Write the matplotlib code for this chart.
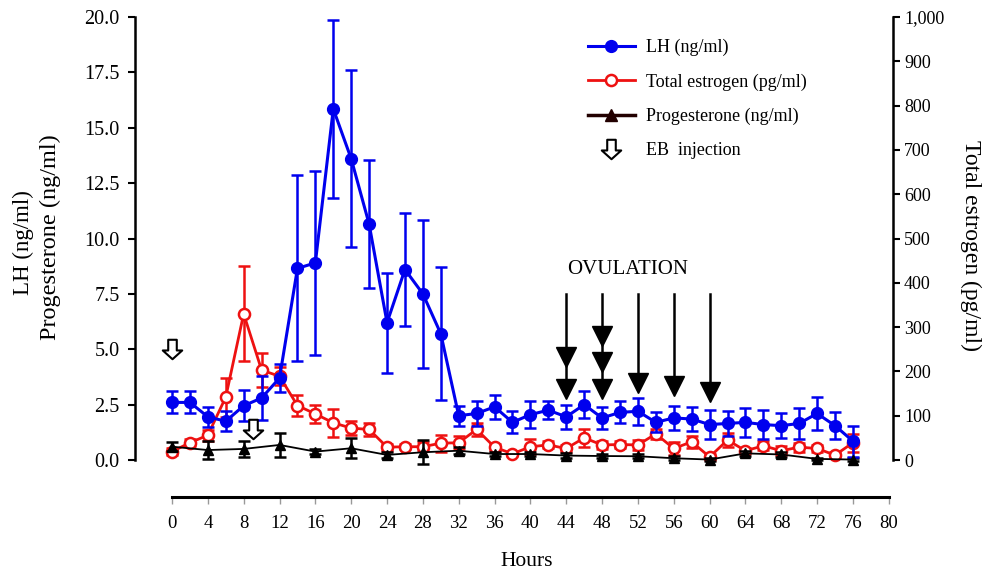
import numpy as np
import matplotlib
matplotlib.use('Agg')
import matplotlib.pyplot as plt
from matplotlib.lines import Line2D
from matplotlib.path import Path
from matplotlib.ticker import StrMethodFormatter

plt.rcParams['font.family'] = ['Liberation Serif', 'DejaVu Serif']

# sampling times (h)
hours = [0, 2, 4, 6, 8, 10, 12, 14, 16, 18, 20, 22, 24, 26, 28, 30, 32, 34, 36, 38,
         40, 42, 44, 46, 48, 50, 52, 54, 56, 58, 60, 62, 64, 66, 68, 70, 72, 74, 76]

# LH (ng/ml)
lh = [2.6, 2.6, 1.95, 1.75, 2.45, 2.8, 3.7, 8.65, 8.9, 15.85, 13.6, 10.65, 6.2, 8.6,
      7.5, 5.7, 2.0, 2.1, 2.4, 1.7, 2.05, 2.25, 1.95, 2.5, 1.9, 2.15, 2.2, 1.7, 1.9,
      1.85, 1.6, 1.65, 1.7, 1.6, 1.55, 1.65, 2.1, 1.55, 0.85]
lh_err = [0.5, 0.5, 0.45, 0.45, 0.7, 1.0, 0.65, 4.2, 4.15, 4.0, 4.0, 2.9, 2.25, 2.55,
          3.35, 3.0, 0.45, 0.55, 0.55, 0.5, 0.6, 0.4, 0.55, 0.6, 0.5, 0.5, 0.6, 0.45,
          0.55, 0.55, 0.65, 0.55, 0.65, 0.65, 0.55, 0.7, 0.75, 0.6, 0.7]

# total estrogen (pg/ml)
estrogen = [19, 39, 56, 142, 330, 203, 189, 123, 104, 84, 72, 69, 29, 30, 30, 38, 39,
            69, 29, 14, 30, 34, 26, 50, 34, 35, 34, 59, 26, 41, 7, 45, 21, 32, 21, 29,
            26, 11, 39]
estrogen_err = [8, 8, 12, 44, 107, 39, 20, 23, 20, 32, 15, 15, 8, 6, 10, 19, 15, 15, 8,
                5, 17, 8, 8, 21, 10, 8, 12, 12, 15, 13, 6, 15, 6, 10, 10, 10, 8, 6, 20]

# progesterone (ng/ml), every 4 h
prog_hours = [0, 4, 8, 12, 16, 20, 24, 28, 32, 36, 40, 44, 48, 52, 56, 60, 64, 68, 72, 76]
prog = [0.6, 0.45, 0.5, 0.68, 0.38, 0.53, 0.23, 0.35, 0.42, 0.27, 0.27, 0.2, 0.18,
        0.17, 0.08, 0.02, 0.3, 0.25, 0.05, 0.02]
prog_err = [0.2, 0.4, 0.35, 0.55, 0.12, 0.45, 0.12, 0.55, 0.15, 0.1, 0.1, 0.1, 0.1,
            0.1, 0.1, 0.05, 0.1, 0.1, 0.05, 0.05]

# EB injections
eb_hours = [0, 9]
eb_level = [5.0, 1.4]

# ovulation arrows
ovul_hours = [44, 48, 52, 56, 60]
ovul_heads = [[4.65, 3.2], [5.6, 4.42, 3.2], [3.48], [3.34], [3.07]]
ovul_top = 7.5

blue = '#0000ee'
red = '#ee1111'

# open down arrow marker
eb_marker = Path([(-0.22, 0.5), (0.22, 0.5), (0.22, -0.05), (0.5, -0.05), (0, -0.5),
                  (-0.5, -0.05), (-0.22, -0.05), (-0.22, 0.5)], closed=True)

fig = plt.figure(figsize=(9.84, 5.76), dpi=100)
ax = fig.add_axes([135/984, 79/576, 758/984, 480/576])
ax2 = ax.twinx()
ax.set_zorder(ax2.get_zorder() + 1)
ax.patch.set_visible(False)

ax2.errorbar(hours, estrogen, yerr=estrogen_err, color=red, lw=2, marker='o', ms=8,
             mfc='white', mec=red, mew=1.8, elinewidth=1.8, capsize=4.5, capthick=1.8)
ax.errorbar(prog_hours, prog, yerr=prog_err, color='black', lw=1.3, marker='^', ms=7,
            elinewidth=1.8, capsize=4.5, capthick=1.8)
ax.errorbar(hours, lh, yerr=lh_err, color=blue, lw=2.2, marker='o', ms=8.5,
            elinewidth=1.8, capsize=4.5, capthick=1.8)

ax.plot(eb_hours, eb_level, ls='none', marker=eb_marker, ms=14, mfc='white',
        mec='black', mew=1.5)

for h, heads in zip(ovul_hours, ovul_heads):
    ax.plot([h, h], [ovul_top, min(heads)], color='black', lw=1.8)
    ax.plot([h] * len(heads), heads, ls='none', marker='v', ms=14, color='black')
ax.text(50.8, 8.58, 'OVULATION', ha='center', va='center', fontsize=15)

ax.set_xlim(-4.13, 80.47)
ax.set_ylim(-1.67, 20)
ax2.set_ylim(-83.5, 1000)

for s in ['top', 'right']:
    ax.spines[s].set_visible(False)
for s in ['top', 'left', 'bottom']:
    ax2.spines[s].set_visible(False)
ax.spines['left'].set_bounds(0, 20)
ax.spines['bottom'].set_bounds(0, 80)
ax2.spines['right'].set_bounds(0, 1000)
ax.spines['left'].set_linewidth(1.8)
ax.spines['bottom'].set_linewidth(2.2)
ax2.spines['right'].set_linewidth(1.8)

ax.set_yticks(np.arange(0, 20.1, 2.5))
ax.yaxis.set_major_formatter(StrMethodFormatter('{x:.1f}'))
ax.set_xticks(range(0, 81, 4))
ax2.set_yticks(range(0, 1001, 100))
ax2.yaxis.set_major_formatter(StrMethodFormatter('{x:,.0f}'))

ax.tick_params(axis='y', direction='out', length=5, width=1.5, labelsize=14.5, pad=6)
ax.tick_params(axis='x', direction='out', length=5, width=1, color='#999999',
               labelsize=13.5, pad=8)
ax2.tick_params(axis='y', direction='out', length=5, width=1.5, labelsize=13, pad=3)

fig.text(23/984, 1 - 243/576, 'LH (ng/ml)', rotation=90, ha='center', va='center',
         fontsize=16.5)
fig.text(50/984, 1 - 237/576, 'Progesterone (ng/ml)', rotation=90, ha='center',
         va='center', fontsize=17.5)
fig.text(971/984, 1 - 245/576, 'Total estrogen (pg/ml)', rotation=270, ha='center',
         va='center', fontsize=17)
fig.text(527/984, 1 - 561/576, 'Hours', ha='center', va='center', fontsize=15.5)

handles = [
    Line2D([], [], color=blue, lw=2.2, marker='o', ms=8.5),
    Line2D([], [], color=red, lw=2, marker='o', ms=8, mfc='white', mec=red, mew=1.8),
    Line2D([], [], color='#220000', lw=2.5, marker='^', ms=8),
    Line2D([], [], ls='none', marker=eb_marker, ms=14, mfc='white', mec='black', mew=1.5),
]
labels = ['LH (ng/ml)', 'Total estrogen (pg/ml)', 'Progesterone (ng/ml)', 'EB  injection']
ax.legend(handles, labels, loc='upper left', bbox_to_anchor=(588/984, 1 - 39/576),
          bbox_transform=fig.transFigure, frameon=False, fontsize=13,
          handlelength=2.6, handletextpad=0.6, labelspacing=0.95, borderpad=0,
          borderaxespad=0)

fig.savefig('out.png', dpi=100)
